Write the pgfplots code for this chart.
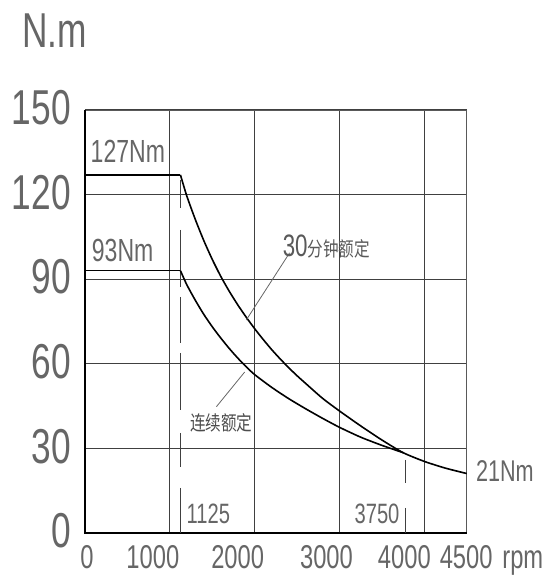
\documentclass[border=0pt]{standalone}
\usepackage{pgfplots}
\pgfplotsset{compat=1.18}
\usepackage{fontspec}
\setmainfont{Liberation Sans}
% thin, narrow drafting-style lettering
\newfontfamily\cadfont{Liberation Sans}[FakeStretch=0.72]
\newfontfamily\cjk{Noto Sans CJK SC}[FakeStretch=0.78]
\newcommand\cad[1]{\cadfont\fontsize{#1bp}{#1bp}\selectfont}
\newcommand\cjkf[1]{\cjk\fontsize{#1bp}{#1bp}\selectfont}
\tikzset{
  speed/.style={anchor=base, inner sep=0pt, text=black!60, font=\cad{33}},
  lbl/.style={anchor=base west, inner sep=0pt, text=black!60},
}

% 30-minute rating: constant torque up to base speed, then falling
\pgfplotstableread{
rpm   T
0     127
1125  127
}\thirtyflat
\pgfplotstableread{
rpm   T
1125  127
1200  119.5
1300  111.2
1400  103.7
1500  97.0
1600  91.0
1700  85.7
1800  80.9
1900  76.5
2000  72.4
2100  68.6
2200  65.0
2300  61.7
2400  58.6
2500  55.7
2600  53.0
2800  47.7
3000  43.2
3250  37.9
3500  32.9
3750  28.4
4000  25.3
4250  22.9
4500  21
}\thirtymin

% continuous rating
\pgfplotstableread{
rpm   T
0     93
1125  93
}\contflat
\pgfplotstableread{
rpm   T
1125  93
1200  88
1300  82.5
1400  77.5
1500  73.1
1600  69.1
1700  65.4
1800  62.0
1900  58.9
2000  56.1
2200  51.6
2400  47.6
2600  44.0
2800  40.6
3000  37.4
3250  33.9
3500  31.0
3750  28.4
}\continuous

\begin{document}
\begin{tikzpicture}
\begin{axis}[
  scale only axis, width=381.7bp, height=422.7bp,
  xmin=0, xmax=4500, ymin=0, ymax=150,
  xtick={1000,2000,3000,4000}, xticklabels={},
  ytick={0,30,...,150},
  major tick length=0pt,
  grid=major,
  major grid style={black!75, line width=1bp},
  axis line style={black!65, line width=0.9bp},
  yticklabel style={font=\cad{49}, text=black!60, inner sep=0pt, xshift=-14bp, yshift=2bp},
  /pgf/number format/assume math mode=true,
  clip=false,
]
\coordinate (o) at (rel axis cs:0,0);
% heavier left and bottom edges
\draw[black, line width=1.8bp] (rel axis cs:0,1) -- (rel axis cs:0,0) -- (rel axis cs:1,0);

% base-speed and crossover markers
\addplot[black!75, line width=1.2bp,
  dash pattern=on 28bp off 22bp on 57bp off 10bp on 46bp off 10bp on 57bp off 23bp on 34bp off 21bp on 50bp]
  coordinates {(1125,125.2) (1125,0)};
\addplot[black!75, line width=1.2bp, dash pattern=on 23bp off 25bp on 30bp]
  coordinates {(3780,25.8) (3780,0)};

% torque curves
\addplot[black, line width=1.6bp] table[x=rpm, y=T] {\thirtyflat};
\addplot[black, line width=1.6bp, smooth, tension=0.4] table[x=rpm, y=T] {\thirtymin};
\addplot[black, line width=1.6bp] table[x=rpm, y=T] {\contflat};
\addplot[black, line width=1.6bp, smooth, tension=0.4] table[x=rpm, y=T] {\continuous};

% leader lines
\addplot[black!60, line width=0.8bp] coordinates {(2412,99.3) (1902,75.5)};
\addplot[black!60, line width=0.8bp] coordinates {(1882,57) (1549,44.7)};

% annotations
\node[lbl, font=\cad{32}] at (axis cs:65,131.3) {127Nm};
\node[lbl, font=\cad{32}] at (axis cs:79,96.2) {93Nm};
\node[lbl, text=black!65] at (axis cs:2330,97.9) {\cad{31}30\cjkf{20}分钟额定};
\node[anchor=center, inner sep=0pt, text=black!70, font=\cjkf{20}] at (axis cs:1606,38.9) {连续额定};
\node[lbl, font=\cad{28}] at (axis cs:1196,3.3) {1125};
\node[lbl, font=\cad{28}] at (axis cs:3176,3.3) {3750};
\node[lbl, font=\cad{30}] at (axis cs:4608,18.1) {21Nm};
\node[lbl, font=\cad{49}] at (axis cs:-745,172) {N.m};

% speed scale
\node[speed] at (axis cs:24,-12.8) {0};
\node[speed] at (axis cs:800,-12.8) {1000};
\node[speed] at (axis cs:1800,-12.8) {2000};
\node[speed] at (axis cs:2847,-12.8) {3000};
\node[speed] at (axis cs:3765,-12.8) {4000};
\node[speed] at (axis cs:4494,-12.8) {4500};
\node[speed, anchor=base west] at (axis cs:4918,-12.8) {rpm};
\end{axis}
\pgfresetboundingbox
\path (o) ++(-85bp,-42.3bp) rectangle ++(552bp,575bp);
\end{tikzpicture}
\end{document}
